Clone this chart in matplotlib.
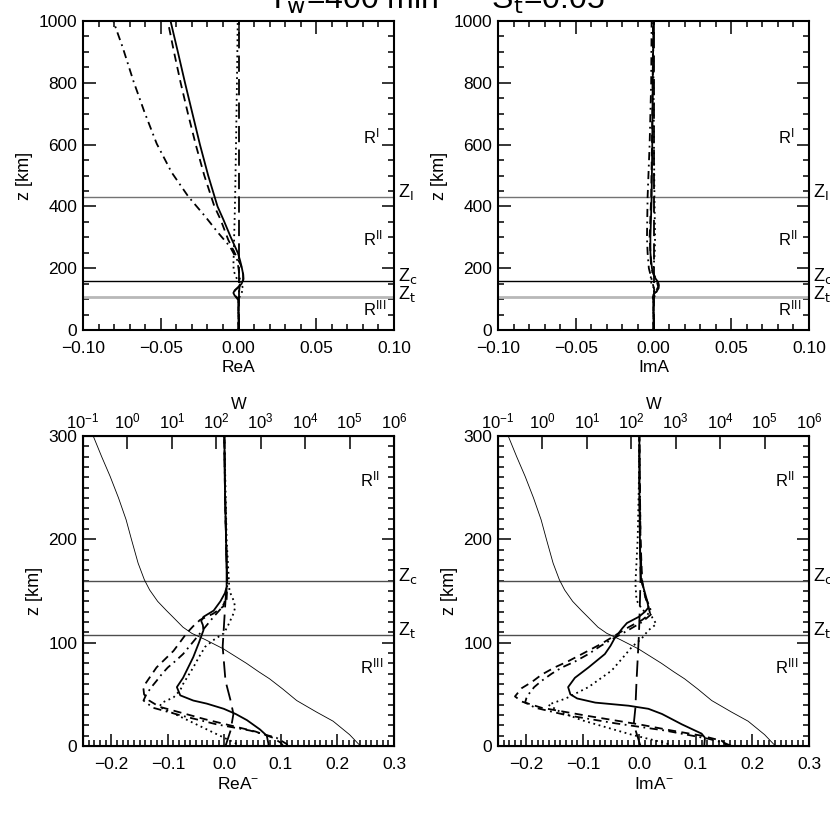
import numpy as np
import matplotlib.pyplot as plt
from matplotlib.ticker import MultipleLocator, LogLocator, NullLocator

plt.rcParams['font.family'] = ['Liberation Sans', 'DejaVu Sans']
plt.rcParams['mathtext.default'] = 'regular'

# levels of the horizontal lines [km]
z_I, z_c, z_t = 430, 160, 107

# ---- top left: ReA ----
ReA_solid_z = [0, 95, 103, 112, 120, 128, 138, 150, 165, 180, 205, 225, 248, 275, 303, 357, 400, 500, 600, 700, 800, 900, 1000]
ReA_solid_x = [0.0, 0.0, -0.001, -0.0025, -0.0033, -0.0025, 0.0, 0.002, 0.0032, 0.003, 0.002, 0.001, -0.0003, -0.0027, -0.0052, -0.0097, -0.0135, -0.0195, -0.0248, -0.0296, -0.0344, -0.039, -0.0437]
ReA_dash_z = [0, 100, 110, 120, 130, 145, 160, 180, 210, 248, 292, 357, 400, 500, 600, 700, 800, 900, 1000]
ReA_dash_x = [0.0, 0.0, -0.002, -0.003, -0.002, 0.001, 0.003, 0.003, 0.0015, -0.0023, -0.0066, -0.0115, -0.0155, -0.022, -0.0275, -0.0325, -0.0372, -0.0415, -0.0455]
ReA_dd_z = [0, 100, 130, 160, 196, 226, 270, 314, 368, 432, 510, 603, 707, 806, 915, 1000]
ReA_dd_x = [0.0, 0.0, 0.0005, 0.001, 0.0001, -0.0008, -0.0055, -0.013, -0.0215, -0.0323, -0.043, -0.0526, -0.0606, -0.0676, -0.0745, -0.0805]
ReA_dot_z = [0, 100, 120, 135, 150, 165, 190, 210, 250, 300, 357, 450, 600, 800, 1000]
ReA_dot_x = [0.0, 0.0, 0.002, 0.003, 0.0015, -0.001, -0.003, -0.0033, -0.003, -0.0028, -0.0025, -0.0021, -0.0016, -0.001, -0.0005]
ReA_long_z = [0, 1000]
ReA_long_x = [0.0, 0.0]

# ---- top right: ImA ----
ImA_solid_z = [0, 95, 105, 115, 125, 135, 145, 155, 165, 180, 200, 250, 300, 430, 600, 800, 1000]
ImA_solid_x = [0.0, 0.0, -0.0005, 0.0, 0.002, 0.0033, 0.0035, 0.003, 0.0015, 0.0, -0.001, -0.002, -0.002, -0.0012, -0.0008, -0.0005, 0.0]
ImA_dash_z = [0, 100, 120, 140, 160, 200, 300, 430, 600, 800, 1000]
ImA_dash_x = [0.0, 0.0, 0.001, 0.003, 0.002, -0.0015, -0.0025, -0.0015, -0.001, -0.0005, -0.0003]
ImA_dd_z = [0, 100, 130, 160, 200, 250, 300, 430, 600, 800, 1000]
ImA_dd_x = [0.0, 0.0, 0.0005, -0.001, -0.003, -0.0038, -0.0042, -0.0038, -0.0025, -0.0015, -0.0012]
ImA_dot_z = [0, 100, 125, 145, 165, 200, 250, 300, 430, 600, 800, 1000]
ImA_dot_x = [0.0, 0.0, 0.002, -0.001, -0.002, 0.0, 0.0008, 0.001, 0.0006, 0.0003, 0.0, -0.0003]
ImA_long_z = [0, 1000]
ImA_long_x = [0.0, 0.0]

# ---- bottom left: ReA^- ----
ReAm_solid_z = [0, 2, 10, 16, 25, 31, 36, 41, 44, 49, 57, 66, 76, 86, 100, 112, 117, 121, 125, 131, 140, 148, 154, 170, 200, 250, 300]
ReAm_solid_x = [0.078, 0.078, 0.075, 0.063, 0.040, 0.020, -0.001, -0.031, -0.055, -0.078, -0.084, -0.073, -0.064, -0.055, -0.045, -0.037, -0.038, -0.041, -0.037, -0.019, -0.007, 0.001, 0.004, 0.004, 0.003, 0.001, 0.0]
ReAm_dash_z = [0, 3, 8, 14, 20, 26, 32, 38, 44, 50, 55, 60, 68, 76, 84, 92, 100, 109, 116, 122, 128, 135, 145, 160, 200, 250, 300]
ReAm_dash_x = [0.104, 0.100, 0.086, 0.055, 0.010, -0.035, -0.075, -0.115, -0.133, -0.142, -0.143, -0.140, -0.130, -0.120, -0.105, -0.090, -0.079, -0.067, -0.055, -0.043, -0.020, -0.002, 0.003, 0.005, 0.003, 0.001, 0.0]
ReAm_dd_z = [0, 2, 8, 15, 21, 29, 37, 44, 50, 57, 63, 70, 76, 82, 89, 97, 105, 115, 125, 133, 142, 155, 200, 250, 300]
ReAm_dd_x = [0.112, 0.110, 0.092, 0.045, -0.014, -0.073, -0.126, -0.143, -0.138, -0.129, -0.120, -0.110, -0.100, -0.087, -0.073, -0.061, -0.049, -0.034, -0.019, -0.006, 0.004, 0.005, 0.003, 0.001, 0.0]
ReAm_dot_z = [0, 10, 20, 30, 38, 42, 47, 54, 60, 68, 76, 86, 96, 103, 109, 116, 122, 128, 134, 140, 150, 170, 200, 250, 300]
ReAm_dot_x = [0.030, -0.008, -0.046, -0.084, -0.115, -0.11, -0.09, -0.078, -0.073, -0.064, -0.055, -0.045, -0.034, -0.018, -0.001, 0.006, 0.011, 0.016, 0.019, 0.017, 0.009, 0.007, 0.004, 0.002, 0.0]
ReAm_long_z = [0, 15, 31, 44, 63, 96, 141, 161, 200, 250, 300]
ReAm_long_x = [0.002, 0.011, 0.016, 0.011, 0.002, -0.003, 0.002, 0.005, 0.003, 0.001, 0.0]

# ---- bottom right: ImA^- ----
ImAm_solid_z = [0, 2, 8, 12, 21, 31, 36, 39, 42, 46, 50, 57, 66, 76, 89, 97, 105, 109, 114, 119, 125, 130, 134, 140, 150, 161, 175, 200, 250, 300]
ImAm_solid_x = [0.115, 0.115, 0.116, 0.11, 0.075, 0.040, 0.016, -0.019, -0.078, -0.11, -0.122, -0.126, -0.114, -0.09, -0.061, -0.051, -0.043, -0.037, -0.03, -0.022, -0.001, 0.010, 0.016, 0.014, 0.009, 0.003, 0.002, 0.001, 0.0, 0.0]
ImAm_dash_z = [0, 3, 5, 10, 15, 21, 29, 37, 43, 48, 56, 62, 69, 76, 82, 90, 99, 107, 115, 122, 128, 135, 145, 160, 200, 250, 300]
ImAm_dash_x = [0.155, 0.150, 0.146, 0.11, 0.057, -0.001, -0.09, -0.173, -0.208, -0.22, -0.208, -0.19, -0.173, -0.15, -0.126, -0.098, -0.067, -0.043, -0.019, 0.005, 0.019, 0.016, 0.010, 0.005, 0.002, 0.001, 0.0]
ImAm_dd_z = [0, 3, 7, 15, 22, 30, 37, 42, 46, 50, 57, 63, 70, 76, 82, 89, 97, 105, 112, 120, 128, 135, 145, 160, 200, 250, 300]
ImAm_dd_x = [0.163, 0.150, 0.122, 0.045, -0.043, -0.13, -0.184, -0.202, -0.20, -0.196, -0.186, -0.173, -0.155, -0.137, -0.113, -0.09, -0.068, -0.043, -0.020, 0.005, 0.022, 0.018, 0.010, 0.004, 0.002, 0.001, 0.0]
ImAm_dot_z = [0, 3, 11, 25, 33, 40, 46, 57, 73, 85, 96, 104, 112, 118, 125, 132, 141, 157, 200, 250, 300]
ImAm_dot_x = [0.06, 0.045, -0.014, -0.102, -0.14, -0.161, -0.13, -0.09, -0.049, -0.03, -0.013, 0.004, 0.016, 0.030, 0.022, 0.005, -0.005, -0.007, -0.003, -0.001, 0.0]
ImAm_long_z = [0, 21, 37, 63, 105, 120, 160, 200, 250, 300]
ImAm_long_x = [0.002, -0.010, -0.007, -0.005, -0.001, 0.0, 0.002, 0.001, 0.0, 0.0]

# W profile (top log axis of the lower panels), decades
W_z = [0, 2, 11, 24, 33, 44, 55, 65, 72, 80, 94, 103, 109, 115, 125, 131, 140, 151, 161, 177, 200, 219, 240, 261, 280, 300]
W_exp = [5.25, 5.2, 5.0, 4.63, 4.25, 3.81, 3.5, 3.2, 2.95, 2.68, 2.16, 1.75, 1.45, 1.25, 1.02, 0.88, 0.68, 0.50, 0.38, 0.24, 0.09, -0.03, -0.2, -0.39, -0.58, -0.77]

styles = {
    'solid': dict(ls='-'),
    'dash': dict(ls=(0, (4.5, 3))),
    'dd': dict(ls=(0, (4.5, 2.5, 1, 2.5))),
    'dot': dict(ls=(0, (1, 2))),
    'long': dict(ls=(0, (9, 4))),
}


def prep_axis(ax, xmaj, xmin, ymaj, ymin, top=True):
    ax.xaxis.set_major_locator(MultipleLocator(xmaj))
    ax.xaxis.set_minor_locator(MultipleLocator(xmin))
    ax.yaxis.set_major_locator(MultipleLocator(ymaj))
    ax.yaxis.set_minor_locator(MultipleLocator(ymin))
    ax.tick_params(which='both', direction='in', right=True, top=top, width=1.1)
    ax.tick_params(which='major', length=9)
    ax.tick_params(which='minor', length=4)
    ax.tick_params(axis='x', pad=8, labelsize=12.5)
    ax.tick_params(axis='y', pad=4, labelsize=12.5)
    for s in ax.spines.values():
        s.set_linewidth(1.5)
    ax.set_ylabel('z [km]', fontsize=13)


def draw_curves(ax, curves):
    for name, x, z in curves:
        ax.plot(x, z, color='black', lw=1.3, **styles[name])


fig = plt.figure(figsize=(8.3, 8.3), dpi=100)

top_panels = [
    ([0.1, 0.6024, 0.3747, 0.3723], 'ReA',
     [('long', ReA_long_x, ReA_long_z), ('dot', ReA_dot_x, ReA_dot_z), ('dd', ReA_dd_x, ReA_dd_z),
      ('dash', ReA_dash_x, ReA_dash_z), ('solid', ReA_solid_x, ReA_solid_z)]),
    ([0.6, 0.6024, 0.3747, 0.3723], 'ImA',
     [('long', ImA_long_x, ImA_long_z), ('dot', ImA_dot_x, ImA_dot_z), ('dd', ImA_dd_x, ImA_dd_z),
      ('dash', ImA_dash_x, ImA_dash_z), ('solid', ImA_solid_x, ImA_solid_z)]),
]

for rect, xlab, curves in top_panels:
    ax = fig.add_axes(rect)
    ax.axhline(z_I, color='0.45', lw=1.0)
    ax.axhline(z_c, color='black', lw=1.0)
    ax.axhline(z_t, color='0.72', lw=2.0)
    draw_curves(ax, curves)
    ax.set_xlim(-0.1, 0.1)
    ax.set_ylim(0, 1000)
    prep_axis(ax, 0.05, 0.01, 200, 50)
    ax.set_xlabel(xlab, fontsize=12.5, labelpad=3)
    tr = ax.get_yaxis_transform()
    ax.text(1.013, z_I, r'Z$_{\rm I}$', transform=tr, fontsize=13, va='baseline', clip_on=False)
    ax.text(1.013, z_c, r'Z$_{\rm c}$', transform=tr, fontsize=13, va='baseline', clip_on=False)
    ax.text(1.013, z_t - 8, r'Z$_{\rm t}$', transform=tr, fontsize=13, va='baseline', clip_on=False)
    ax.text(0.9, 603, r'R$^{\rm I}$', transform=tr, fontsize=12, va='baseline')
    ax.text(0.9, 272, r'R$^{\rm II}$', transform=tr, fontsize=12, va='baseline')
    ax.text(0.9, 46, r'R$^{\rm III}$', transform=tr, fontsize=12, va='baseline')

bottom_panels = [
    ([0.1, 0.1012, 0.3747, 0.3735], r'ReA$^{-}$',
     [('long', ReAm_long_x, ReAm_long_z), ('dot', ReAm_dot_x, ReAm_dot_z), ('dd', ReAm_dd_x, ReAm_dd_z),
      ('dash', ReAm_dash_x, ReAm_dash_z), ('solid', ReAm_solid_x, ReAm_solid_z)]),
    ([0.6, 0.1012, 0.3747, 0.3735], r'ImA$^{-}$',
     [('long', ImAm_long_x, ImAm_long_z), ('dot', ImAm_dot_x, ImAm_dot_z), ('dd', ImAm_dd_x, ImAm_dd_z),
      ('dash', ImAm_dash_x, ImAm_dash_z), ('solid', ImAm_solid_x, ImAm_solid_z)]),
]

W = 10.0 ** np.array(W_exp)

for rect, xlab, curves in bottom_panels:
    ax = fig.add_axes(rect)
    ax.axhline(z_c, color='0.3', lw=1.0)
    ax.axhline(z_t, color='0.3', lw=1.0)
    draw_curves(ax, curves)
    ax.set_xlim(-0.25, 0.3)
    ax.set_ylim(0, 300)
    prep_axis(ax, 0.1, 0.01, 100, 10, top=False)
    ax.set_xlabel(xlab, fontsize=12.5, labelpad=3)
    tr = ax.get_yaxis_transform()
    ax.text(1.013, z_c, r'Z$_{\rm c}$', transform=tr, fontsize=13, va='baseline', clip_on=False)
    ax.text(1.013, z_t, r'Z$_{\rm t}$', transform=tr, fontsize=13, va='baseline', clip_on=False)
    ax.text(0.89, 251, r'R$^{\rm II}$', transform=tr, fontsize=12, va='baseline')
    ax.text(0.89, 70, r'R$^{\rm III}$', transform=tr, fontsize=12, va='baseline')

    # W on a log axis at the top
    axw = ax.twiny()
    axw.plot(W, W_z, color='black', lw=0.6)
    axw.set_xscale('log')
    axw.set_xlim(0.1, 1e6)
    axw.xaxis.set_major_locator(LogLocator(base=10, numticks=20))
    axw.xaxis.set_minor_locator(NullLocator())
    axw.tick_params(axis='x', which='major', direction='in', length=9, width=1.1, pad=3, labelsize=12)
    axw.set_xlabel('W', fontsize=12, labelpad=2)

fig.text(0.525, 1 - 8.5 / 830, r'T$_{\rm w}$=400 min      S$_{\rm t}$=0.05',
         ha='center', va='baseline', fontsize=23)

fig.savefig('out.png', dpi=100)
